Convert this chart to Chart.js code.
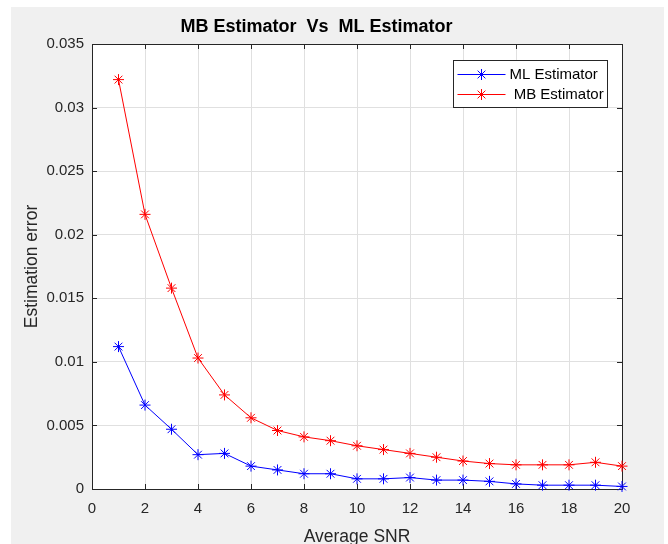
<!DOCTYPE html>
<html>
<head>
<meta charset="utf-8">
<script src="https://cdn.jsdelivr.net/npm/chart.js@4.4.1/dist/chart.umd.min.js"></script>
<style>
  html, body { margin: 0; padding: 0; background: #fff; }
  #wrap { width: 668px; height: 544px; }
</style>
</head>
<body>
<div id="wrap"><canvas id="snrChart" width="668" height="544"></canvas></div>
<script>
// Data
const snr = [1, 2, 3, 4, 5, 6, 7, 8, 9, 10, 11, 12, 13, 14, 15, 16, 17, 18, 19, 20];
const mlError = [0.0112, 0.0066, 0.0047, 0.0027, 0.0028, 0.0018, 0.0015, 0.0012, 0.0012, 0.0008,
                 0.0008, 0.0009, 0.0007, 0.0007, 0.0006, 0.0004, 0.0003, 0.0003, 0.0003, 0.0002];
const mbError = [0.0322, 0.0216, 0.0158, 0.0103, 0.0074, 0.0056, 0.0046, 0.0041, 0.0038, 0.0034,
                 0.0031, 0.0028, 0.0025, 0.0022, 0.0020, 0.0019, 0.0019, 0.0019, 0.0021, 0.0018];
const xTickLabels = ["0", "2", "4", "6", "8", "10", "12", "14", "16", "18", "20"];
const yTickLabels = ["0", "0.005", "0.01", "0.015", "0.02", "0.025", "0.03", "0.035"];

const FONT = "'Liberation Sans', Arial, Helvetica, sans-serif";
const AXIS_COLOR = "#262626";

// MATLAB-like figure: grey background, white axes, boxed frame, inward ticks, legend box
const matlabFrame = {
  id: "matlabFrame",
  beforeDraw(chart) {
    const { ctx, chartArea: a } = chart;
    ctx.save();
    ctx.fillStyle = "#fff";
    ctx.fillRect(0, 0, chart.width, chart.height);
    ctx.fillStyle = "#f0f0f0";
    ctx.fillRect(11, 7, 653, chart.height - 7);
    ctx.fillStyle = "#fff";
    ctx.fillRect(a.left, a.top, a.right - a.left, a.bottom - a.top);
    ctx.restore();
  },
  beforeDatasetsDraw(chart) {
    const { ctx, chartArea: a, scales } = chart;
    ctx.save();
    ctx.strokeStyle = AXIS_COLOR;
    ctx.lineWidth = 1;
    ctx.beginPath();
    scales.x.ticks.forEach((t) => {
      const px = Math.round(scales.x.getPixelForValue(t.value)) + 0.5;
      ctx.moveTo(px, a.bottom); ctx.lineTo(px, a.bottom - 5);
      ctx.moveTo(px, a.top); ctx.lineTo(px, a.top + 5);
    });
    scales.y.ticks.forEach((t) => {
      const py = Math.round(scales.y.getPixelForValue(t.value)) + 0.5;
      ctx.moveTo(a.left, py); ctx.lineTo(a.left + 5, py);
      ctx.moveTo(a.right, py); ctx.lineTo(a.right - 5, py);
    });
    ctx.stroke();
    ctx.strokeRect(Math.round(a.left) + 0.5, Math.round(a.top) + 0.5,
                   Math.round(a.right - a.left), Math.round(a.bottom - a.top));
    ctx.restore();
  },
  afterDraw(chart) {
    const { ctx, chartArea: a } = chart;
    const w = 154, h = 47;
    const left = Math.round(a.right - 15 - w) + 0.5;
    const top = Math.round(a.top + 16) + 0.5;
    ctx.save();
    ctx.fillStyle = "#fff";
    ctx.fillRect(left, top, w, h);
    ctx.strokeStyle = AXIS_COLOR;
    ctx.lineWidth = 1;
    ctx.strokeRect(left, top, w, h);
    chart.data.datasets.forEach((ds, i) => {
      const y = Math.round(top + 13 + i * 20) + 0.5;
      const x0 = left + 4, x1 = left + 52, xm = (x0 + x1) / 2;
      ctx.strokeStyle = ds.borderColor;
      ctx.beginPath();
      ctx.moveTo(x0, y); ctx.lineTo(x1, y);
      ctx.stroke();
      Chart.helpers.drawPoint(ctx, { pointStyle: "star", radius: 5.5, borderWidth: 1 }, xm, y);
      ctx.fillStyle = "#000";
      ctx.font = "15px " + FONT;
      ctx.textAlign = "left";
      ctx.textBaseline = "middle";
      ctx.fillText(ds.label, left + 56, y);
    });
    ctx.restore();
  },
};

const makeSeries = (label, values, color) => ({
  label: label,
  data: snr.map((x, i) => ({ x: x, y: values[i] })),
  borderColor: color,
  backgroundColor: color,
  borderWidth: 1,
  pointStyle: "star",
  pointRadius: 5.5,
  pointBorderWidth: 1,
  pointBorderColor: color,
  tension: 0,
  clip: false,
});

const ctx = document.getElementById("snrChart").getContext("2d");
new Chart(ctx, {
  type: "line",
  data: {
    datasets: [
      makeSeries("ML Estimator", mlError, "#0000ff"),
      makeSeries(" MB Estimator", mbError, "#ff0000"),
    ],
  },
  options: {
    responsive: false,
    animation: false,
    layout: { padding: { left: 11, top: 7, right: 46, bottom: 0 } },
    plugins: {
      legend: { display: false },
      tooltip: { enabled: false },
      title: {
        display: true,
        text: "MB Estimator  Vs  ML Estimator",
        color: "#000",
        font: { family: FONT, size: 18, weight: "bold", lineHeight: 1.2 },
        padding: { top: 9, bottom: 6.4 },
      },
    },
    scales: {
      x: {
        type: "linear",
        min: 0,
        max: 20,
        ticks: {
          stepSize: 2,
          color: AXIS_COLOR,
          padding: 11,
          font: { family: FONT, size: 15 },
          callback: (v, i) => xTickLabels[i],
        },
        grid: { color: "#e0e0e0", drawTicks: false },
        border: { display: false },
        title: {
          display: true,
          text: "Average SNR",
          color: AXIS_COLOR,
          font: { family: FONT, size: 17.5, lineHeight: 1.2 },
          padding: { top: 0, bottom: -4 },
        },
        afterFit: (scale) => { scale.height = 55; },
      },
      y: {
        min: 0,
        max: 0.035,
        ticks: {
          stepSize: 0.005,
          color: AXIS_COLOR,
          padding: 8,
          font: { family: FONT, size: 15 },
          callback: (v, i) => yTickLabels[i],
        },
        grid: { color: "#e0e0e0", drawTicks: false },
        border: { display: false },
        title: {
          display: true,
          text: "Estimation error",
          color: AXIS_COLOR,
          font: { family: FONT, size: 17.5, lineHeight: 1.2 },
          padding: { top: 11, bottom: 0 },
        },
        afterFit: (scale) => { scale.width = 81; },
      },
    },
  },
  plugins: [matlabFrame],
});
</script>
</body>
</html>
